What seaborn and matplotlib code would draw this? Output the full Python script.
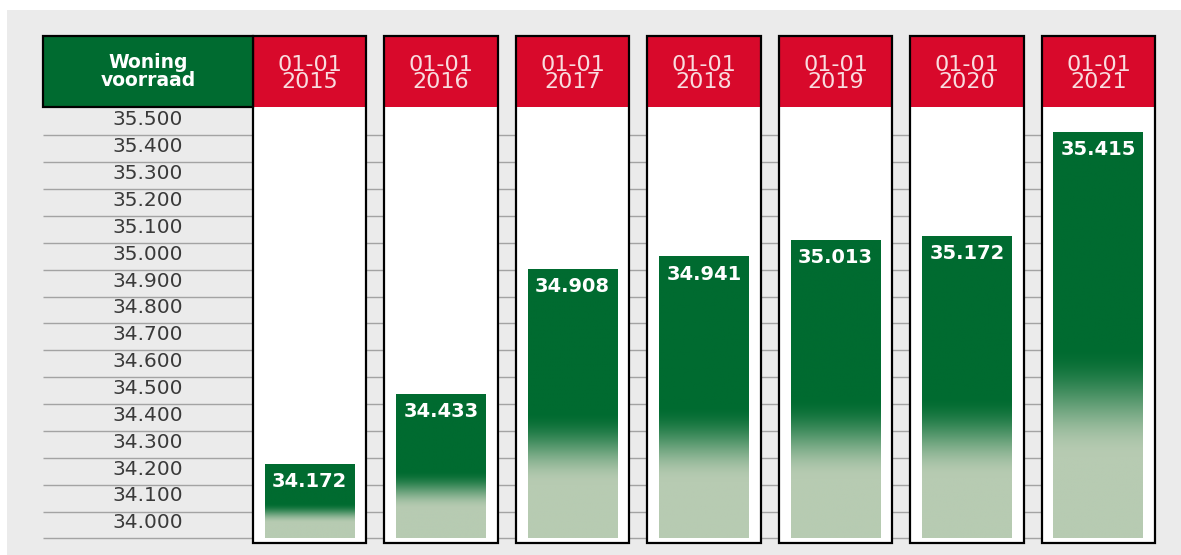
import numpy as np
import pandas as pd
import matplotlib
matplotlib.use("Agg")
import matplotlib.pyplot as plt
import seaborn as sns
from matplotlib.patches import Rectangle
from matplotlib.colors import to_rgba

# data
DATES = ["01-01\n2015", "01-01\n2016", "01-01\n2017", "01-01\n2018",
         "01-01\n2019", "01-01\n2020", "01-01\n2021"]
# printed values (woningvoorraad)
VALUES = [34172, 34433, 34908, 34941, 35013, 35172, 35415]
# where the bar tops actually sit on the scale in the picture
BAR_TOPS = [34223, 34483, 34948, 34996, 35056, 35074, 35461]
Y_TICKS = [34000, 34100, 34200, 34300, 34400, 34500, 34600, 34700,
           34800, 34900, 35000, 35100, 35200, 35300, 35400, 35500]
HEADER_LABEL = "Woning\nvoorraad"

# colours
GRAY_BG = "#ebebeb"
RED = "#d8092b"
GREEN = "#006b30"
LIGHT_GREEN = "#b7cbb2"
GRID = "#a3a3a3"

# layout (data units)
Y_BOTTOM, Y_TOP = 33933, 35820
HEADER_Y0 = 35556
BASE = 33950
X_LEFT, X_RIGHT = -2.027, 6.43
COL_HALF = 0.43
BAR_W = 0.684


def fmt(v):
    return f"{v:,}".replace(",", ".")


def gradient(n=300):
    # top of bar dark, bottom ~quarter light, blend in between
    f = np.linspace(1, 0, n)
    t = np.clip((f - 0.2) / (0.47 - 0.2), 0, 1)
    t = t * t * (3 - 2 * t)
    dark = np.array(to_rgba(GREEN))
    light = np.array(to_rgba(LIGHT_GREEN))
    img = light[None, :] * (1 - t[:, None]) + dark[None, :] * t[:, None]
    return img[:, None, :]


fig = plt.figure(figsize=(11.81, 5.55), dpi=100)
fig.patch.set_facecolor("white")
fig.patches.append(Rectangle((7 / 1181, 0), 1, 545 / 555, transform=fig.transFigure,
                             facecolor=GRAY_BG, edgecolor="none", zorder=-10))

ax = fig.add_axes([43 / 1181, 12 / 555, 1112 / 1181, 507 / 555])
ax.set_facecolor("none")

df = pd.DataFrame({"datum": DATES, "top": BAR_TOPS})
sns.barplot(data=df, x="datum", y="top", width=BAR_W, color=GREEN, ax=ax,
            zorder=3, errorbar=None)
bars = list(ax.patches)

# gridlines between the tick labels
ax.hlines([v - 50 for v in Y_TICKS], X_LEFT, X_RIGHT, color=GRID, lw=1, zorder=1)

# white columns and red headers
for i, date in enumerate(DATES):
    ax.add_patch(Rectangle((i - COL_HALF, Y_BOTTOM), 2 * COL_HALF, Y_TOP - Y_BOTTOM,
                           facecolor="white", edgecolor="none", zorder=2))
    ax.add_patch(Rectangle((i - COL_HALF, HEADER_Y0), 2 * COL_HALF, Y_TOP - HEADER_Y0,
                           facecolor=RED, edgecolor="none", zorder=4))
    ax.add_patch(Rectangle((i - COL_HALF, Y_BOTTOM), 2 * COL_HALF, Y_TOP - Y_BOTTOM,
                           facecolor="none", edgecolor="black", lw=1.6, zorder=5,
                           clip_on=False))
    ax.text(i, (HEADER_Y0 + Y_TOP) / 2 - 8, date, ha="center", va="center",
            color="#f9dcdf", fontsize=16, linespacing=0.85, zorder=6)

# green header box on the left
ax.add_patch(Rectangle((X_LEFT, HEADER_Y0), -COL_HALF - X_LEFT, Y_TOP - HEADER_Y0,
                       facecolor=GREEN, edgecolor="black", lw=1.6, zorder=5, clip_on=False))
ax.text((X_LEFT - COL_HALF) / 2, (HEADER_Y0 + Y_TOP) / 2, HEADER_LABEL, ha="center",
        va="center", color="white", fontsize=13.5, fontweight="bold", linespacing=0.95,
        zorder=6)

# y labels sit centred in the left column
for v in Y_TICKS:
    ax.text((X_LEFT - COL_HALF) / 2, v + 8, fmt(v), ha="center", va="center",
            fontsize=14.5, color="#3a3a3a", zorder=3)

# gradient fill for the bars, start on the lowest gridline
for bar, val in zip(bars, VALUES):
    x0, w, top = bar.get_x(), bar.get_width(), bar.get_height()
    bar.set_y(BASE)
    bar.set_height(top - BASE)
    bar.set_visible(False)
    ax.imshow(gradient(), extent=(x0, x0 + w, BASE, top), aspect="auto",
              interpolation="bilinear", zorder=3)
    ax.annotate(fmt(val), (x0 + w / 2, top), xytext=(0, -12), textcoords="offset points",
                ha="center", va="center", color="white", fontsize=14,
                fontweight="bold", zorder=6)

ax.set_xlim(X_LEFT, X_RIGHT)
ax.set_ylim(Y_BOTTOM, Y_TOP)
ax.set_xlabel("")
ax.set_ylabel("")
ax.set_xticks([])
ax.set_yticks([])
for s in ax.spines.values():
    s.set_visible(False)

fig.savefig("out.png", dpi=100)
